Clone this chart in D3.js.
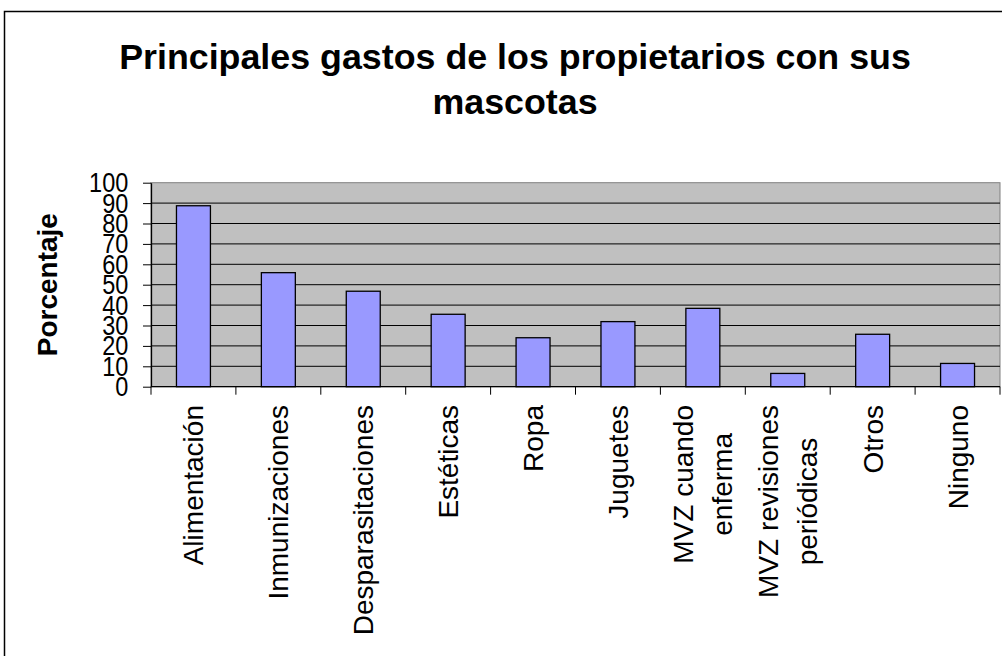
<!DOCTYPE html>
<html>
<head>
<meta charset="utf-8">
<script src="https://cdn.jsdelivr.net/npm/d3@7"></script>
<style>
    html, body { margin: 0; padding: 0; background: #fff; }
    svg { display: block; font-family: "Liberation Sans", Arial, sans-serif; }
</style>
</head>
<body>
<script>
const categories = ["Alimentación", "Inmunizaciones", "Desparasitaciones", "Estéticas", "Ropa",
    "Juguetes", "MVZ cuando\nenferma", "MVZ revisiones\nperiódicas", "Otros", "Ninguno"];
const values = [88.7, 55.9, 46.8, 35.5, 24.0, 31.9, 38.4, 6.5, 25.7, 11.4];
const yTicks = [0, 10, 20, 30, 40, 50, 60, 70, 80, 90, 100];
const titleLines = ["Principales gastos de los propietarios con sus", "mascotas"];
const yTitle = "Porcentaje";

window.onload = () => {
    const w = 1002, h = 656;
    const plot = { left: 151, right: 1000, top: 182.7, bottom: 386.7 };

    const svg = d3.select("body").append("svg")
        .attr("width", w)
        .attr("height", h);

    // outer chart frame (runs past the window on right and bottom)
    svg.append("rect")
        .attr("x", 4.5).attr("y", 11.5)
        .attr("width", 1030).attr("height", 700)
        .attr("fill", "#fff")
        .attr("stroke", "#000")
        .attr("stroke-width", 1.5);

    const x = d3.scaleBand()
        .domain(categories)
        .range([plot.left, plot.right])
        .paddingInner(0.6)
        .paddingOuter(0.3);

    const y = d3.scaleLinear()
        .domain([0, 100])
        .range([plot.bottom, plot.top]);

    // plot background
    svg.append("rect")
        .attr("x", plot.left).attr("y", plot.top)
        .attr("width", plot.right - plot.left)
        .attr("height", plot.bottom - plot.top)
        .attr("fill", "#c0c0c0")
        .attr("stroke", "#808080")
        .attr("stroke-width", 1);

    // gridlines
    svg.append("g").selectAll("line")
        .data(yTicks.filter(function (d) { return d > 0 && d < 100; }))
        .enter().append("line")
        .attr("x1", plot.left).attr("x2", plot.right)
        .attr("y1", function (d) { return y(d); })
        .attr("y2", function (d) { return y(d); })
        .attr("stroke", "#000")
        .attr("stroke-width", 1);

    // bars
    svg.append("g").selectAll("rect")
        .data(values)
        .enter().append("rect")
        .attr("x", function (d, i) { return x(categories[i]); })
        .attr("y", function (d) { return y(d); })
        .attr("width", x.bandwidth())
        .attr("height", function (d) { return y(0) - y(d); })
        .attr("fill", "#9999ff")
        .attr("stroke", "#000")
        .attr("stroke-width", 1.3);

    // y axis (labels are squeezed sideways like the original)
    const yAxis = svg.append("g")
        .attr("transform", "translate(" + plot.left + ",0)")
        .call(d3.axisLeft(y).tickValues(yTicks).tickSize(8).tickPadding(19).tickSizeOuter(0));
    yAxis.select(".domain").attr("stroke", "#000").attr("stroke-width", 1.3);
    yAxis.selectAll(".tick line").attr("stroke", "#000");
    yAxis.selectAll("text")
        .attr("font-size", 28)
        .attr("font-family", "Liberation Sans, Arial, sans-serif")
        .attr("transform", "scale(0.84,1)")
        .attr("fill", "#000");

    // x axis line + boundary ticks
    svg.append("line")
        .attr("x1", plot.left).attr("x2", plot.right)
        .attr("y1", y(0)).attr("y2", y(0))
        .attr("stroke", "#000").attr("stroke-width", 1.3);

    const step = x.step();
    svg.append("g").selectAll("line")
        .data(d3.range(categories.length + 1))
        .enter().append("line")
        .attr("x1", function (d) { return plot.left + d * step; })
        .attr("x2", function (d) { return plot.left + d * step; })
        .attr("y1", y(0)).attr("y2", y(0) + 8)
        .attr("stroke", "#000");

    // category labels, rotated, end-aligned at the top
    const labelTop = 405;
    const lineGap = 39;
    categories.forEach(function (c) {
        const lines = c.split("\n");
        const cx = x(c) + x.bandwidth() / 2;
        const g = svg.append("g")
            .attr("transform", "translate(" + cx + "," + labelTop + ") rotate(-90)");
        const texts = g.selectAll("text")
            .data(lines)
            .enter().append("text")
            .attr("font-size", 28)
            .attr("text-anchor", "middle")
            .attr("fill", "#000")
            .attr("y", function (d, i) { return 10 + (i - (lines.length - 1) / 2) * lineGap; })
            .text(function (d) { return d; });
        let maxW = 0;
        texts.each(function () { maxW = Math.max(maxW, this.getComputedTextLength()); });
        texts.attr("x", -maxW / 2);
    });

    // y axis title
    svg.append("text")
        .attr("transform", "translate(57," + ((plot.top + plot.bottom) / 2) + ") rotate(-90)")
        .attr("text-anchor", "middle")
        .attr("font-size", 28)
        .attr("font-weight", "bold")
        .text(yTitle);

    // chart title
    svg.append("g").selectAll("text")
        .data(titleLines)
        .enter().append("text")
        .attr("x", 515)
        .attr("y", function (d, i) { return 69 + i * 45; })
        .attr("text-anchor", "middle")
        .attr("font-size", 35.8)
        .attr("font-weight", "bold")
        .text(function (d) { return d; });
};
</script>
</body>
</html>
